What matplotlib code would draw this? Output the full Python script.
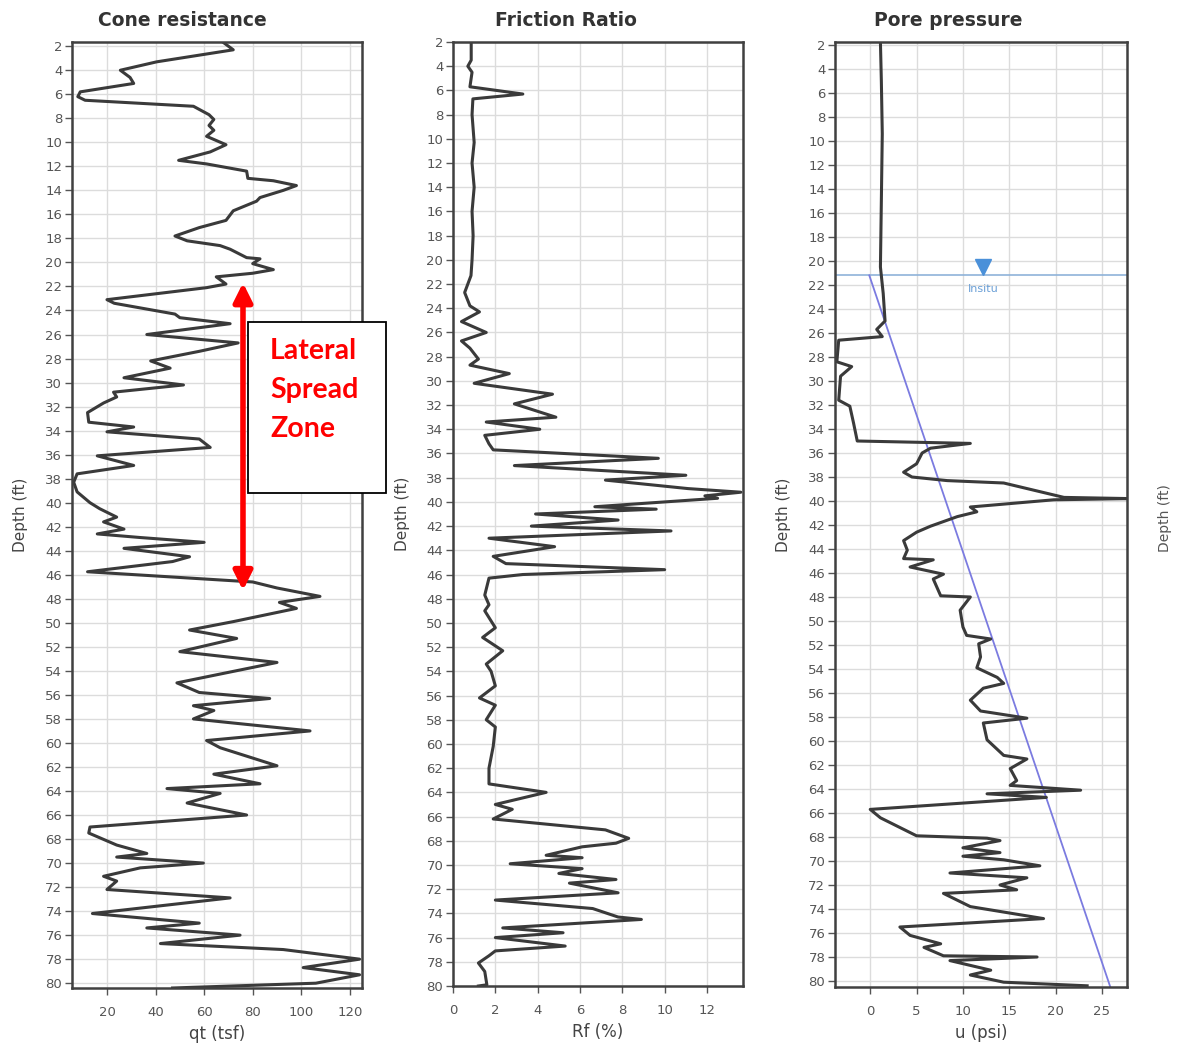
import matplotlib.pyplot as plt
from matplotlib.patches import Rectangle

# ---- Cone resistance (qt, tsf) ----
cone_depth = [1.7, 2.3, 3.3, 4.0, 4.6, 5.1, 5.8, 6.2, 6.5, 7.0, 7.7, 8.1, 8.6, 9.0, 9.5,
              10.2, 10.8, 11.5, 11.8, 12.4, 13.0, 13.2, 13.6, 14.0, 14.6, 14.9, 15.7, 16.5,
              17.1, 17.8, 18.2, 18.6, 18.9, 19.6, 19.7, 20.1, 20.6, 20.9, 21.2, 21.8, 22.1,
              23.1, 23.4, 24.3, 24.6, 25.1, 26.0, 26.7, 27.4, 28.2, 28.8, 29.6, 30.2, 30.8,
              31.2, 31.7, 32.5, 33.3, 33.7, 34.1, 34.7, 35.4, 36.1, 36.9, 37.6, 38.3, 39.1,
              40.0, 40.5, 41.2, 41.6, 42.2, 42.6, 42.9, 43.3, 43.8, 44.5, 44.9, 45.75, 46.6,
              47.1, 47.8, 48.3, 48.8, 49.9, 50.6, 51.3, 52.4, 53.3, 54.1, 55.0, 55.8, 56.3,
              56.9, 57.3, 58.0, 59.0, 59.8, 60.4, 61.9, 62.6, 63.4, 63.8, 64.2, 65.0, 66.0,
              67.0, 67.5, 68.5, 69.2, 69.5, 70.0, 70.4, 71.1, 71.5, 72.2, 72.9, 74.2, 75.0,
              75.4, 76.0, 76.7, 77.2, 78.0, 78.7, 79.3, 80.0, 80.4]
cone_qt = [68, 72, 40.5, 25.5, 29.5, 31, 9, 8, 11, 55.6, 62, 64, 62, 64, 61,
           69, 62.5, 49.5, 61, 77.5, 78, 88.5, 98, 92.6, 83, 81.6, 72, 69,
           58, 48, 53, 66.6, 70.7, 77.5, 83, 80, 88.5, 80, 65, 69, 61,
           20, 23, 48, 50, 70.7, 36.4, 74, 58, 38, 46, 27, 51.5, 22.7,
           24, 18.6, 12, 12.5, 31, 20, 58, 62.5, 16, 31, 7.7, 6.3, 7.7,
           13, 17, 24, 18.6, 27, 16, 33.7, 60, 27, 54, 47, 12, 80,
           90, 107.7, 91, 98, 72, 54, 73.4, 50, 90, 70.7, 48.8, 58, 87,
           55.6, 64, 55.6, 103.6, 61, 66.6, 90, 64, 83, 44.7, 66.6, 53, 77.5,
           13, 12.5, 24, 36.4, 24, 59.7, 33.7, 18.6, 24, 20, 70.7, 14, 58,
           36.4, 74.8, 42, 92.6, 124, 100.8, 124, 106, 47]

# ---- Friction ratio (Rf, %) ----
fric_depth = [2.0, 3.5, 4.0, 4.5, 5.7, 6.3, 6.7, 8.0, 10.3, 12.0, 14.0, 16.0, 18.0, 20.0,
              21.3, 22.7, 23.8, 24.3, 25.1, 26.0, 26.7, 27.3, 28.2, 28.7, 29.4, 30.2, 31.1,
              31.9, 33.0, 33.4, 34.0, 34.5, 35.2, 35.7, 36.4, 37.0, 37.8, 38.2, 38.9, 39.2,
              39.5, 39.7, 40.4, 40.6, 41.0, 41.5, 42.0, 42.4, 43.0, 43.7, 44.5, 45.1, 45.6,
              46.0, 46.3, 47.7, 48.5, 49.0, 50.4, 51.2, 52.3, 53.4, 54.0, 55.2, 56.2, 56.8,
              58.0, 58.6, 60.2, 62.0, 63.3, 64.0, 65.0, 65.4, 66.2, 67.1, 67.8, 68.2, 68.5,
              69.2, 69.4, 69.9, 70.3, 70.7, 71.2, 71.5, 72.3, 72.9, 73.6, 74.3, 74.5, 75.2,
              75.6, 76.0, 76.7, 77.1, 77.5, 78.1, 78.8, 79.9, 80.0]
fric_rf = [0.86, 0.86, 0.7, 0.9, 0.8, 3.3, 0.94, 0.9, 1.0, 0.9, 1.0, 0.9, 0.95, 0.9,
           0.85, 0.55, 0.8, 1.25, 0.4, 1.57, 0.4, 0.8, 1.2, 0.8, 2.66, 1.0, 4.7,
           2.9, 4.86, 1.57, 4.1, 1.5, 1.7, 1.9, 9.7, 2.9, 11.0, 7.2, 11.1, 13.6,
           11.9, 12.5, 6.7, 9.6, 3.9, 7.8, 3.7, 10.3, 1.7, 4.8, 1.9, 2.5, 10.0,
           3.3, 1.7, 1.5, 1.7, 1.5, 2.0, 1.4, 2.35, 1.57, 1.8, 2.0, 1.25, 2.0,
           1.57, 2.0, 1.9, 1.7, 1.7, 4.4, 2.0, 2.8, 1.9, 7.2, 8.3, 7.7, 6.1,
           4.4, 6.1, 2.7, 6.1, 5.0, 7.7, 5.5, 7.8, 2.0, 6.6, 7.8, 8.9, 2.35,
           5.2, 2.0, 5.3, 2.0, 1.7, 1.2, 1.5, 1.6, 1.2]

# ---- Pore pressure (u, psi) ----
pore_depth = [1.75, 5.0, 9.4, 15.0, 20.5, 22.7, 25.0, 25.7, 26.3, 26.6, 28.4, 28.8, 29.6,
              31.6, 32.1, 33.5, 35.0, 35.2, 35.6, 36.0, 36.9, 37.6, 38.0, 38.3, 38.5, 39.7,
              39.8, 39.9, 40.5, 40.9, 41.3, 42.1, 42.6, 43.3, 44.1, 44.8, 44.9, 45.5, 46.1,
              46.5, 47.9, 48.0, 49.1, 50.5, 51.2, 51.5, 51.9, 53.0, 53.9, 54.7, 55.2, 55.6,
              56.6, 57.5, 58.1, 58.5, 59.9, 61.2, 61.5, 62.3, 63.3, 63.7, 64.1, 64.4, 64.7,
              65.7, 66.4, 67.9, 68.1, 68.3, 68.9, 69.3, 69.6, 69.9, 70.4, 71.0, 71.4, 72.0,
              72.4, 72.7, 73.8, 74.8, 75.5, 76.2, 76.9, 77.2, 77.9, 78.0, 78.3, 79.1, 79.5,
              80.1, 80.4]
pore_u = [1.1, 1.2, 1.3, 1.2, 1.1, 1.4, 1.6, 0.7, 1.3, -3.4, -3.6, -2.0, -3.2,
          -3.4, -2.2, -1.8, -1.4, 10.8, 6.5, 5.6, 5.0, 3.6, 4.5, 8.3, 14.4, 20.9,
          28.0, 19.8, 10.8, 11.5, 9.4, 6.5, 5.0, 3.6, 4.0, 3.6, 6.8, 4.3, 7.9,
          6.8, 7.6, 10.8, 9.7, 10.0, 10.4, 13.0, 11.7, 11.9, 11.5, 13.7, 14.4, 12.2,
          10.8, 11.9, 16.9, 12.2, 12.6, 14.4, 16.9, 15.1, 15.8, 15.1, 22.7, 12.6, 19.0,
          0.0, 1.1, 5.0, 12.6, 14.0, 10.0, 14.0, 10.0, 14.4, 18.3, 8.6, 16.9, 14.0,
          15.8, 7.9, 10.8, 18.7, 3.2, 4.3, 7.6, 5.8, 7.9, 18.0, 8.6, 13.0, 10.8,
          14.4, 23.4]

# hydrostatic line below the in-situ water table
hydro_depth = [21.2, 80.5]
hydro_u = [-0.1, 25.9]
water_table = 21.2

LINE = '#3a3a3a'
TICK = '#555555'
depth_ticks = list(range(2, 81, 2))


def style_axis(ax, xticks, xlim, ylim, xlabel):
    ax.set_xlim(*xlim)
    ax.set_ylim(*ylim)
    ax.set_xticks(xticks)
    ax.set_yticks(depth_ticks)
    ax.grid(True, color='#dcdcdc', lw=1.0)
    ax.set_axisbelow(True)
    for s in ax.spines.values():
        s.set_color('#404040')
        s.set_linewidth(1.8)
    ax.tick_params(direction='out', length=5, width=1, color=TICK,
                   labelcolor=TICK, labelsize=9.5, pad=2)
    ax.tick_params(axis='x', pad=8)
    ax.set_xlabel(xlabel, fontsize=12, color='#444444')
    ax.set_ylabel('Depth (ft)', fontsize=11, color='#444444')
    ax.yaxis.set_label_coords(-0.15, 0.5)
    ax.xaxis.set_label_coords(0.5, -0.039)


fig = plt.figure(figsize=(11.77, 10.48), dpi=100)
W, H = 1177.0, 1048.0


def px_axes(left, top, right, bottom):
    return fig.add_axes([left / W, 1 - bottom / H, (right - left) / W, (bottom - top) / H])


# 1. Cone resistance
ax1 = px_axes(72, 42, 362, 988)
ax1.plot(cone_qt, cone_depth, color=LINE, lw=2.2)
style_axis(ax1, range(20, 121, 20), (5.6, 125), (80.4, 1.65), 'qt (tsf)')
fig.text(182 / W, 1 - 21 / H, 'Cone resistance', ha='center', va='center',
         fontsize=13.5, fontweight='bold', color='#333333')

# 2. Friction ratio
ax2 = px_axes(453, 42, 743, 986)
ax2.plot(fric_rf, fric_depth, color=LINE, lw=2.2)
style_axis(ax2, range(0, 13, 2), (0, 13.7), (80, 2), 'Rf (%)')
fig.text(566 / W, 1 - 21 / H, 'Friction Ratio', ha='center', va='center',
         fontsize=13.5, fontweight='bold', color='#333333')

# 3. Pore pressure
ax3 = px_axes(835, 42, 1127, 987)
ax3.axhline(water_table, color='#8fb3d9', lw=1.2)
ax3.plot(hydro_u, hydro_depth, color='#7b7be0', lw=1.3)
ax3.plot(pore_u, pore_depth, color=LINE, lw=2.2)
ax3.plot([12.2], [20.5], marker='v', color='#4a90d9', markersize=11, ls='none')
ax3.text(12.2, 22.3, 'Insitu', color='#6a9fd6', fontsize=8, ha='center', va='center')
style_axis(ax3, range(0, 26, 5), (-3.8, 27.7), (80.5, 1.75), 'u (psi)')
fig.text(948 / W, 1 - 21 / H, 'Pore pressure', ha='center', va='center',
         fontsize=13.5, fontweight='bold', color='#333333')
fig.text(1165 / W, 1 - 518 / H, 'Depth (ft)', rotation=90, ha='center', va='center',
         fontsize=10, color='#555555')

# Lateral spread annotation
ax1.annotate('', xy=(76, 47.3), xytext=(76, 21.7),
             arrowprops=dict(arrowstyle='<|-|>', color='#ff0000', lw=4, mutation_scale=28,
                             shrinkA=0, shrinkB=0))
box = Rectangle((248 / W, 1 - 493 / H), (386 - 248) / W, (493 - 322) / H,
                transform=fig.transFigure, facecolor='white', edgecolor='black',
                lw=1.3, zorder=5)
fig.patches.append(box)
fig.text(270 / W, 1 - 338 / H, 'Lateral\nSpread\nZone', ha='left', va='top',
         fontsize=20.5, fontweight='bold', color='#ff0000', family='Lato',
         linespacing=1.62, zorder=6)

fig.savefig('out.png', dpi=100)
